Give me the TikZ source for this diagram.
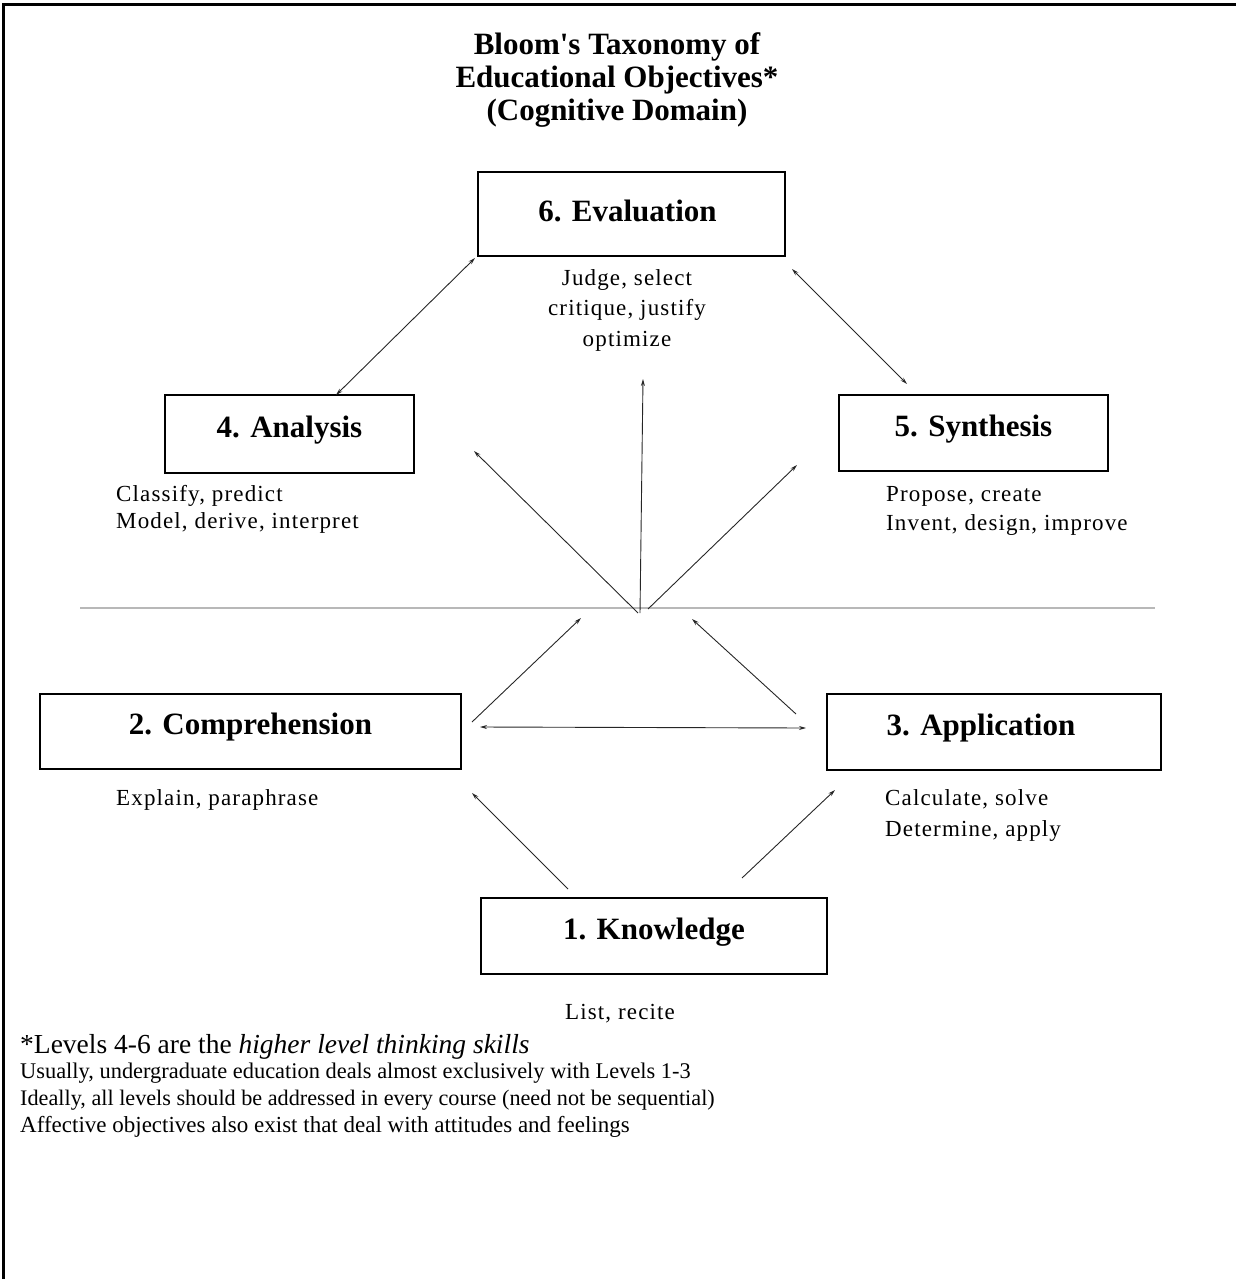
\documentclass[tikz,border=0pt]{standalone}
\usepackage{fontspec}
\setmainfont{Liberation Serif}
\newfontfamily\spacedserif[LetterSpace=5]{Liberation Serif}
\usetikzlibrary{arrows.meta}
\begin{document}
\begin{tikzpicture}[x=1pt,y=1pt,
  lvlbox/.style={draw=black, line width=1.3pt, inner sep=0pt, text height=21pt, text depth=15pt,
    font=\fontsize{31}{36}\selectfont\bfseries},
  bodytxt/.style={inner sep=0pt, font=\spacedserif\fontsize{23}{28}\selectfont},
  notetxt/.style={inner sep=0pt, anchor=base west, font=\fontsize{22.4}{27}\selectfont},
  conn/.style={draw=black!85, line width=0.9pt},
  tipb/.style={conn, {Stealth[length=7pt,width=4pt]}-{Stealth[length=7pt,width=4pt]}},
  tipe/.style={conn, -{Stealth[length=7pt,width=4pt]}},
  frame/.style={line width=3pt, black}]
\useasboundingbox (0,0) rectangle (1236,-1279);
% outer frame (top and left only)
\draw[frame] (1236,-4.5) -- (3.5,-4.5) -- (3.5,-1279);

% title
\node[align=center, inner sep=0pt, font=\fontsize{31}{33}\selectfont\bfseries] (title) at (617,-80)
  {Bloom\textquotesingle s Taxonomy of\\Educational Objectives*\\(Cognitive Domain)};

% level boxes
\node[lvlbox, text depth=7pt, minimum width=307pt, minimum height=84pt] (eval) at (631.5,-214) {\hspace*{-8pt}6. Evaluation};
\node[lvlbox, minimum width=249pt, minimum height=78pt] (ana) at (289.5,-434) {4. Analysis};
\node[lvlbox, minimum width=269pt, minimum height=76pt] (syn) at (973.5,-433) {5. Synthesis};
\node[lvlbox, minimum width=421pt, minimum height=75pt] (comp) at (250.5,-731.5) {2. Comprehension};
\node[lvlbox, minimum width=334pt, minimum height=76pt] (app) at (994,-732) {\hspace*{-26pt}3. Application};
\node[lvlbox, minimum width=346pt, minimum height=76pt] (know) at (654,-936) {1. Knowledge};

% verbs
\node[bodytxt, align=center, anchor=north, font=\spacedserif\fontsize{23}{30.5}\selectfont] (evalv) at (627,-269) {Judge, select\\critique, justify\\optimize};
\node[bodytxt, align=left, anchor=north west, font=\spacedserif\fontsize{23}{27}\selectfont] (anav) at (116,-485) {Classify, predict\\Model, derive, interpret};
\node[bodytxt, align=left, anchor=north west, font=\spacedserif\fontsize{23}{29}\selectfont] (synv) at (886,-486) {Propose, create\\Invent, design, improve};
\node[bodytxt, align=left, anchor=north west] (compv) at (116,-789) {Explain, paraphrase};
\node[bodytxt, align=left, anchor=north west, font=\spacedserif\fontsize{23}{31}\selectfont] (appv) at (885,-789) {Calculate, solve\\Determine, apply};
\node[bodytxt, align=center, anchor=north] (knowv) at (620,-1004) {List, recite};

% footnotes
\node[notetxt, font=\fontsize{27.5}{27}\selectfont] (note1) at (20,-1053) {*Levels 4-6 are the \textit{higher level thinking skills}};
\node[notetxt] (note2) at (20,-1078) {Usually, undergraduate education deals almost exclusively with Levels 1-3};
\node[notetxt, font=\fontsize{22.2}{27}\selectfont] (note3) at (20,-1105) {Ideally, all levels should be addressed in every course (need not be sequential)};
\node[notetxt, font=\fontsize{23}{27}\selectfont] (note4) at (20,-1132) {Affective objectives also exist that deal with attitudes and feelings};

% divider
\coordinate (divL) at (80,-608);
\coordinate (divR) at (1155,-608);
\draw[line width=1.5pt, black!28] (divL) -- (divR);

% connector end points
\coordinate (e1) at (475,-258);  \coordinate (a1) at (336,-395);
\coordinate (e2) at (792,-269);  \coordinate (s1) at (907,-384);
\coordinate (hubL) at (638,-613); \coordinate (hubC) at (640,-613); \coordinate (hubR) at (648,-609);
\coordinate (upC) at (643,-379);
\coordinate (upL) at (474,-451);
\coordinate (upR) at (797,-465);
\coordinate (c1) at (472,-722); \coordinate (c2) at (581,-618);
\coordinate (p1) at (796,-714); \coordinate (p2) at (692,-619);
\coordinate (hL) at (480,-727); \coordinate (hR) at (806,-728);
\coordinate (k1) at (568,-889); \coordinate (kc) at (472,-793);
\coordinate (k2) at (742,-878); \coordinate (kp) at (835,-790);

\draw[tipb] (e1) -- (a1);
\draw[tipb] (e2) -- (s1);
\draw[tipe] (hubC) -- (upC);
\draw[tipe] (hubL) -- (upL);
\draw[tipe] (hubR) -- (upR);
\draw[tipe] (c1) -- (c2);
\draw[tipe] (p1) -- (p2);
\draw[tipb] (hL) -- (hR);
\draw[tipe] (k1) -- (kc);
\draw[tipe] (k2) -- (kp);
\end{tikzpicture}
\end{document}
